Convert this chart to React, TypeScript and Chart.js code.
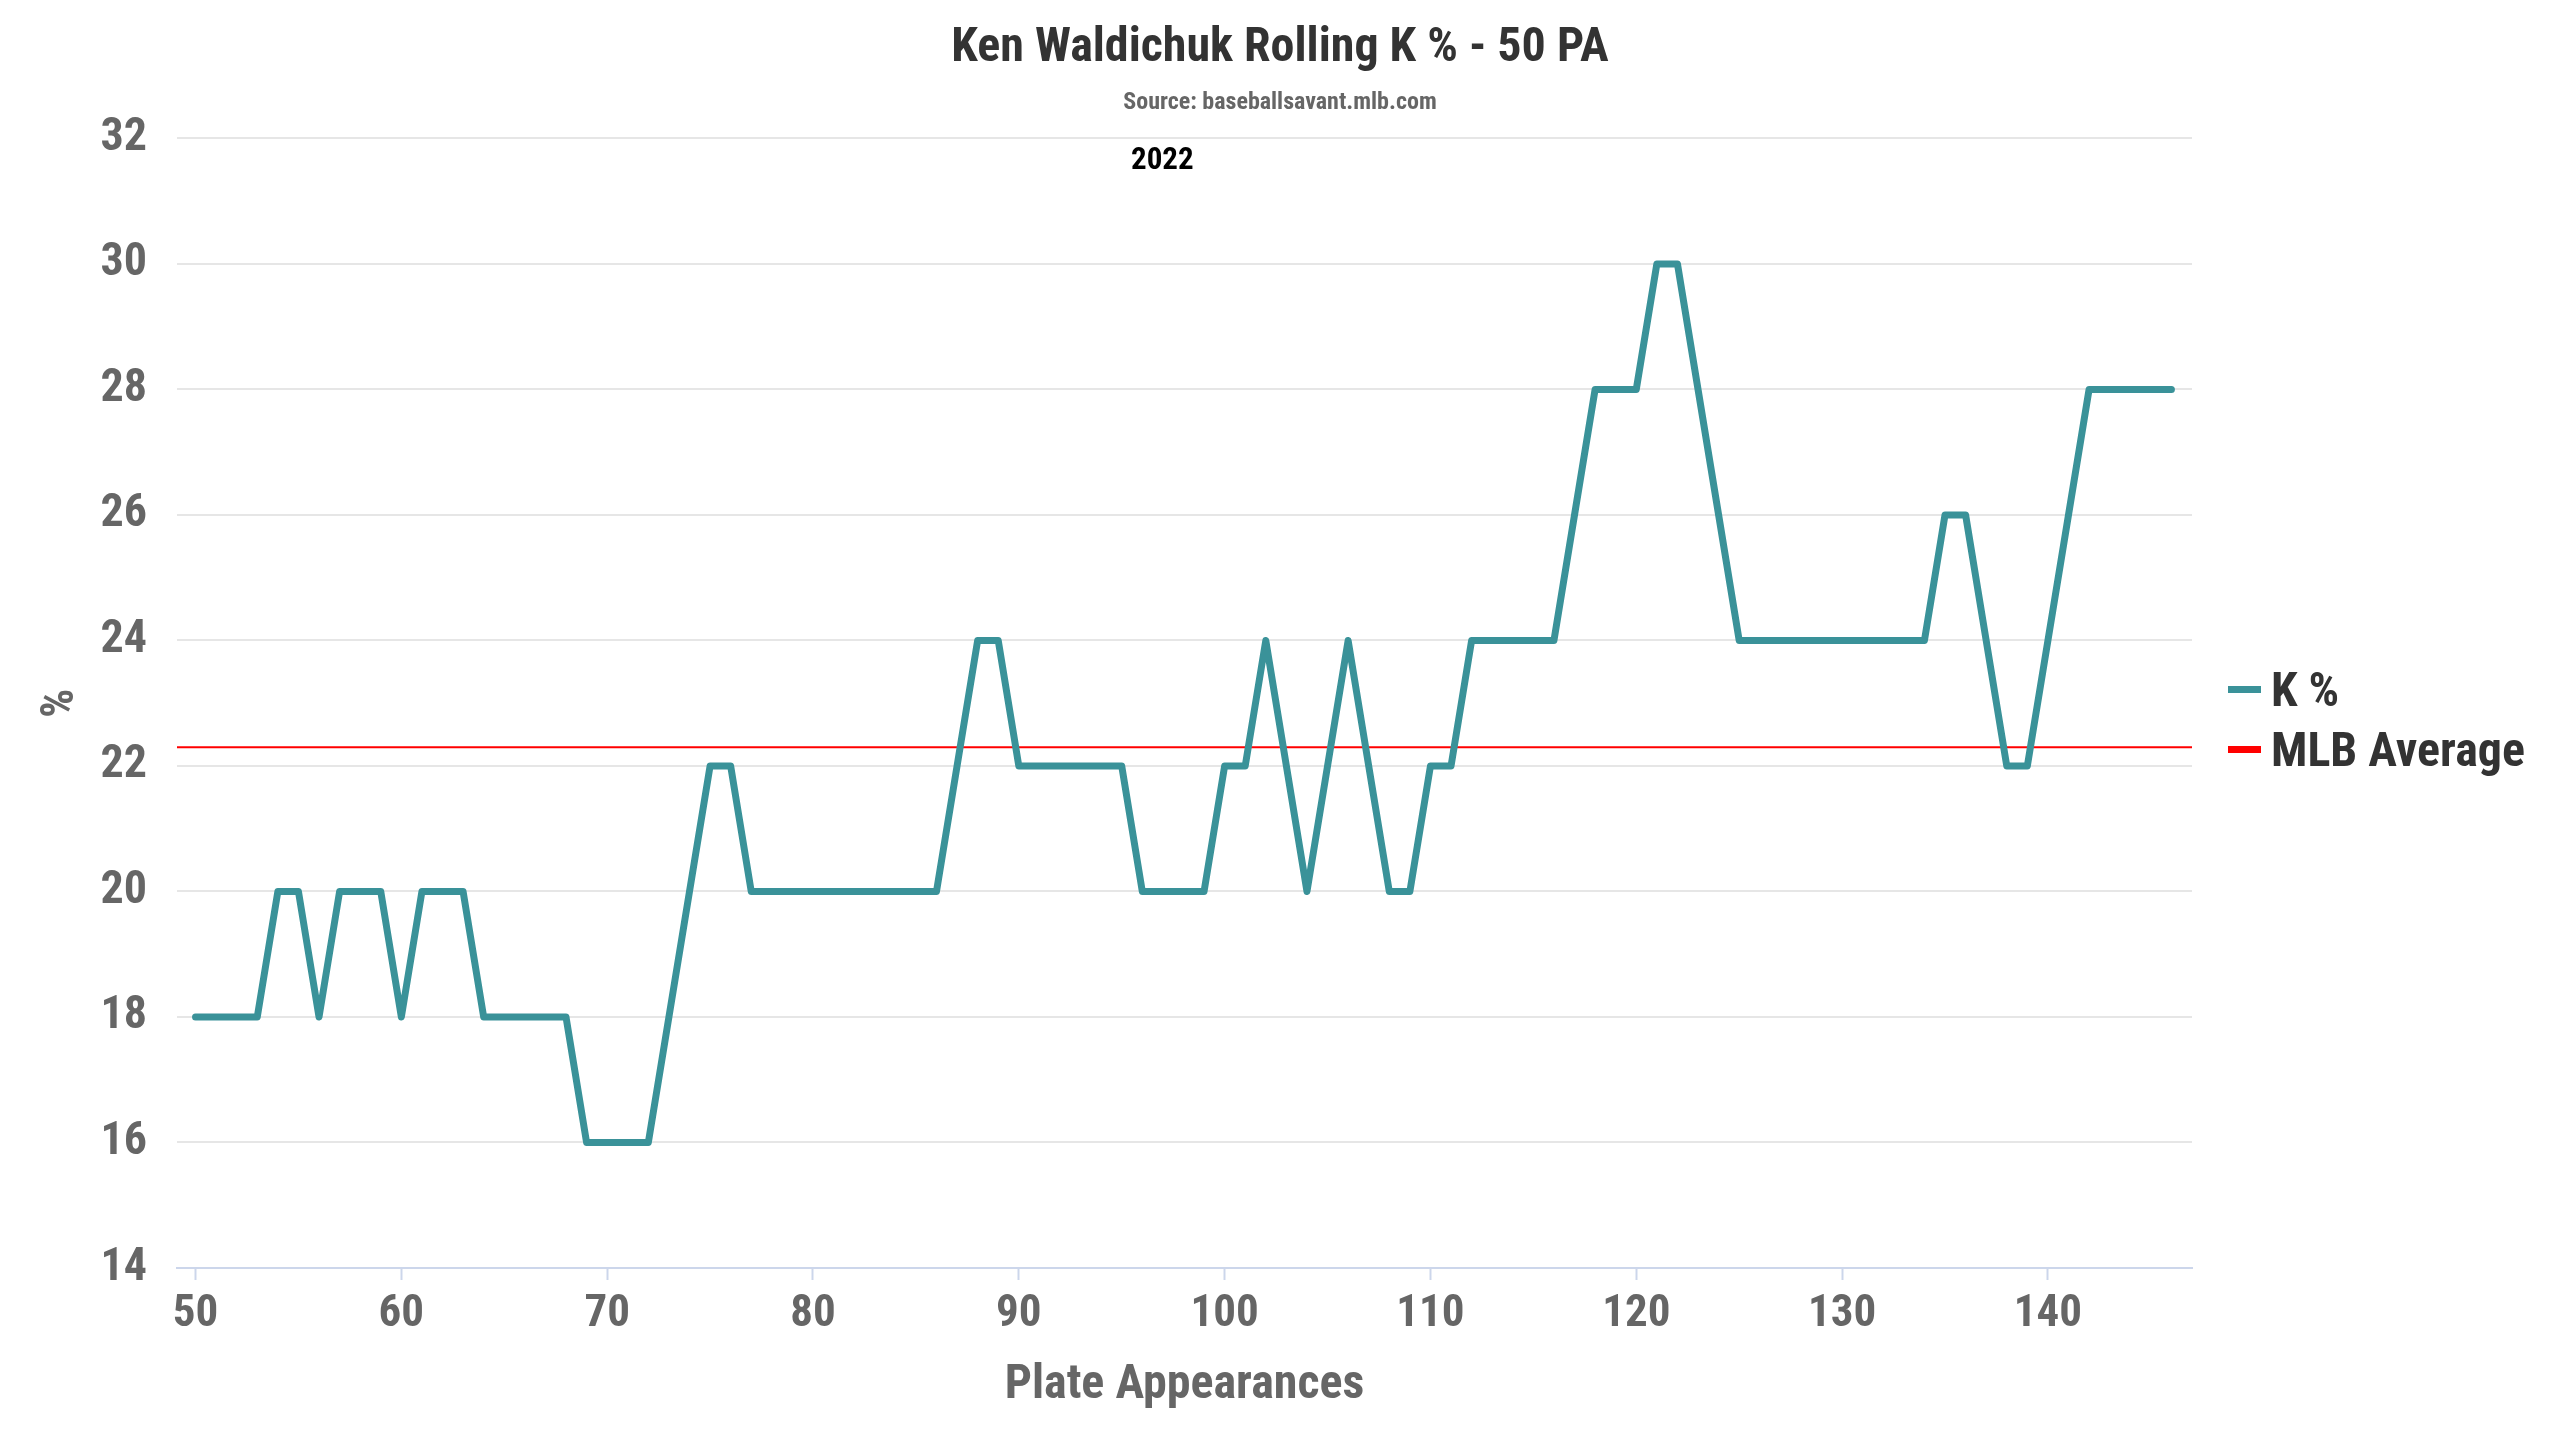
import { useEffect, useRef } from 'react';
import { Chart, registerables } from 'chart.js';

Chart.register(...registerables);

const FONT = "'Roboto Condensed', 'Liberation Sans Narrow', 'DejaVu Sans Condensed', Roboto, sans-serif";

const chartTitle = 'Ken Waldichuk Rolling K % - 50 PA';
const chartSubtitle = 'Source: baseballsavant.mlb.com';
const season = '2022';
const seriesNames = ['K %', 'MLB Average'];
const seriesColors = ['#3a9299', '#ff0000'];

// plate appearance at the end of each 50 PA window
const plateAppearances = [
  50, 51, 52, 53, 54, 55, 56, 57, 58, 59,
  60, 61, 62, 63, 64, 65, 66, 67, 68, 69,
  70, 71, 72, 73, 74, 75, 76, 77, 78, 79,
  80, 81, 82, 83, 84, 85, 86, 87, 88, 89,
  90, 91, 92, 93, 94, 95, 96, 97, 98, 99,
  100, 101, 102, 103, 104, 105, 106, 107, 108, 109,
  110, 111, 112, 113, 114, 115, 116, 117, 118, 119,
  120, 121, 122, 123, 124, 125, 126, 127, 128, 129,
  130, 131, 132, 133, 134, 135, 136, 137, 138, 139,
  140, 141, 142, 143, 144, 145, 146,
];

// rolling strikeout rate, %
const kPct = [
  18, 18, 18, 18, 20, 20, 18, 20, 20, 20,
  18, 20, 20, 20, 18, 18, 18, 18, 18, 16,
  16, 16, 16, 18, 20, 22, 22, 20, 20, 20,
  20, 20, 20, 20, 20, 20, 20, 22, 24, 24,
  22, 22, 22, 22, 22, 22, 20, 20, 20, 20,
  22, 22, 24, 22, 20, 22, 24, 22, 20, 20,
  22, 22, 24, 24, 24, 24, 24, 26, 28, 28,
  28, 30, 30, 28, 26, 24, 24, 24, 24, 24,
  24, 24, 24, 24, 24, 26, 26, 24, 22, 22,
  24, 26, 28, 28, 28, 28, 28,
];

const mlbAverage = 22.3;

const xMin = 49.1;
const xMax = 147;
const yMin = 14;
const yMax = 32;
const yStep = 2;
const xStep = 10;

const seasonLabel = {
  id: 'seasonLabel',
  afterDraw(chart: Chart) {
    const { ctx, chartArea } = chart;
    ctx.save();
    ctx.font = `bold 31px ${FONT}`;
    ctx.fillStyle = '#000000';
    ctx.textAlign = 'center';
    ctx.textBaseline = 'middle';
    ctx.fillText(season, chartArea.left + chartArea.width * 0.489, chartArea.top + 23);
    ctx.restore();
  },
};

export default function App() {
  const chartRef = useRef<HTMLCanvasElement>(null);
  const chartInstance = useRef<Chart | null>(null);

  useEffect(() => {
    if (!chartRef.current) return;
    if (chartInstance.current) chartInstance.current.destroy();
    const ctx = chartRef.current.getContext('2d');
    if (!ctx) return;

    chartInstance.current = new Chart(ctx, {
      type: 'line',
      data: {
        datasets: [
          {
            label: seriesNames[0],
            data: plateAppearances.map((pa, i) => ({ x: pa, y: kPct[i] })),
            borderColor: seriesColors[0],
            backgroundColor: seriesColors[0],
            borderWidth: 7,
            borderJoinStyle: 'round',
            borderCapStyle: 'round',
            pointRadius: 0,
            tension: 0,
          },
          {
            label: seriesNames[1],
            data: [
              { x: xMin, y: mlbAverage },
              { x: xMax, y: mlbAverage },
            ],
            borderColor: seriesColors[1],
            backgroundColor: seriesColors[1],
            borderWidth: 2,
            pointRadius: 0,
          },
        ],
      },
      options: {
        responsive: true,
        maintainAspectRatio: false,
        animation: false,
        layout: { padding: 0 },
        plugins: {
          legend: { display: false },
          tooltip: { enabled: false },
          title: {
            display: true,
            text: chartTitle,
            color: '#333333',
            font: { family: FONT, size: 48, weight: 'bold' },
            padding: { top: 20, bottom: 8 },
          },
          subtitle: {
            display: true,
            text: chartSubtitle,
            color: '#666666',
            font: { family: FONT, size: 24, weight: 'bold' },
            padding: { top: 3, bottom: 21 },
          },
        },
        scales: {
          x: {
            type: 'linear',
            min: xMin,
            max: xMax,
            afterFit: (s: any) => {
              s.height = 172;
            },
            ticks: {
              stepSize: xStep,
              includeBounds: false,
              autoSkip: false,
              maxRotation: 0,
              color: '#666666',
              padding: 8,
              font: { family: FONT, size: 45, weight: 'bold' },
            },
            grid: {
              display: true,
              drawOnChartArea: false,
              drawTicks: true,
              tickLength: 12,
              tickColor: '#ccd6eb',
              tickWidth: 2,
            },
            border: { display: true, color: '#ccd6eb', width: 2, z: 1 },
            title: {
              display: true,
              text: 'Plate Appearances',
              color: '#666666',
              font: { family: FONT, size: 48, weight: 'bold' },
              padding: { top: 18, bottom: 25 },
            },
          },
          y: {
            min: yMin,
            max: yMax,
            afterFit: (s: any) => {
              s.width = 177;
            },
            ticks: {
              stepSize: yStep,
              color: '#666666',
              padding: 30,
              font: { family: FONT, size: 46, weight: 'bold' },
            },
            grid: { color: '#e6e6e6', lineWidth: 2, drawTicks: false },
            border: { display: false },
            title: {
              display: true,
              text: '%',
              color: '#666666',
              font: { family: FONT, size: 46, weight: 'bold' },
              padding: { top: 34, bottom: 0 },
            },
          },
          // empty right-hand strip that leaves room for the legend
          legendSpace: {
            type: 'linear',
            position: 'right',
            display: true,
            afterFit: (s: any) => {
              s.width = 368;
            },
            ticks: { display: false },
            grid: { display: false, drawTicks: false },
            border: { display: false },
          },
        },
      },
      plugins: [seasonLabel],
    });

    return () => {
      if (chartInstance.current) {
        chartInstance.current.destroy();
        chartInstance.current = null;
      }
    };
  }, []);

  return (
    <div style={{ position: 'fixed', left: 0, top: 0, width: '100vw', height: '100vh', background: '#ffffff' }}>
      <canvas ref={chartRef} />
      {/* legend */}
      <div style={{ position: 'absolute', left: 2228, top: 659, fontFamily: FONT, fontWeight: 'bold', fontSize: 48, color: '#333333' }}>
        {seriesNames.map((name, i) => (
          <div key={name} style={{ display: 'flex', alignItems: 'center', height: 60, whiteSpace: 'nowrap' }}>
            <span style={{ display: 'inline-block', width: 33, height: 7, background: seriesColors[i], marginRight: 10 }} />
            <span>{name}</span>
          </div>
        ))}
      </div>
    </div>
  );
}
